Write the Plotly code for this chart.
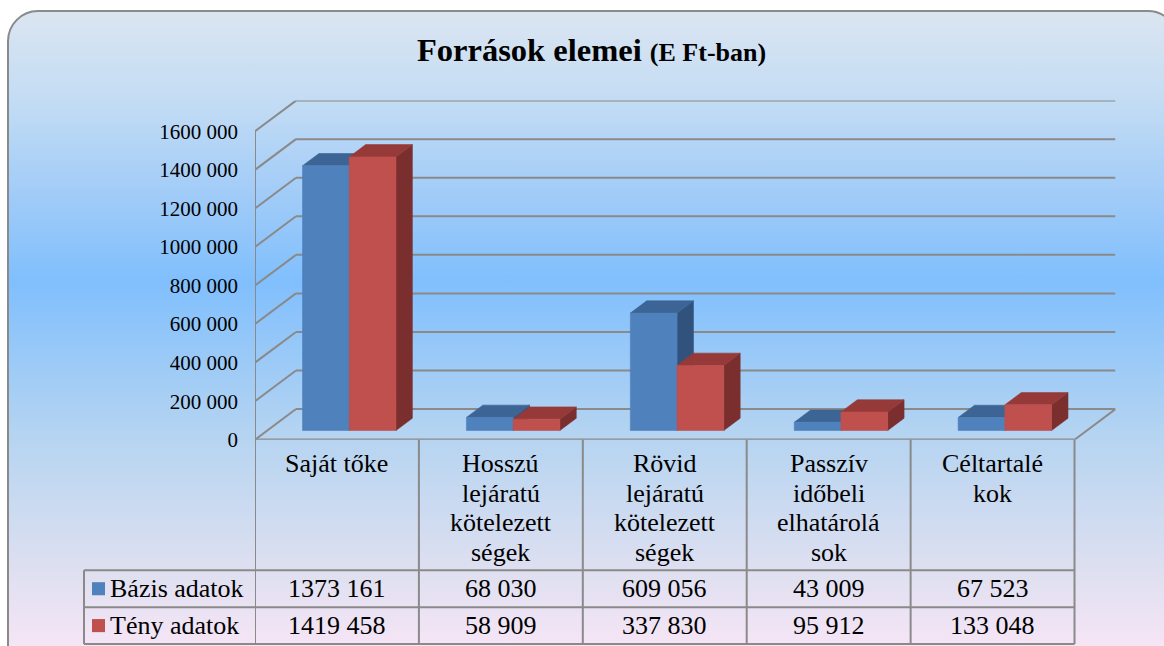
import base64
import plotly.graph_objects as go

# ---------------- data ----------------
categories = [
    ["Saját tőke"],
    ["Hosszú", "lejáratú", "kötelezett", "ségek"],
    ["Rövid", "lejáratú", "kötelezett", "ségek"],
    ["Passzív", "időbeli", "elhatárolá", "sok"],
    ["Céltartalé", "kok"],
]
series_names = ["Bázis adatok", "Tény adatok"]
bazis_values = [1373161, 68030, 609056, 43009, 67523]
teny_values = [1419458, 58909, 337830, 95912, 133048]
y_ticks = [0, 200000, 400000, 600000, 800000, 1000000, 1200000, 1400000, 1600000]
y_tick_labels = ["0", "200 000", "400 000", "600 000", "800 000",
                 "1000 000", "1200 000", "1400 000", "1600 000"]
title_main = "Források elemei"
title_sub = "(E Ft-ban)"

# ---------------- styling / layout ----------------
W, H = 1164, 646          # reference picture size (layout positions use it)
FIG_H = 662               # figure height
X0_PX, X1_PX = 255.0, 1115.5
Y0_PX, Y1_PX = 437.0, 100.0
N = len(categories)
DEPTH_X = 0.25
DEPTH_Y = 159000
Y_TOP = y_ticks[-1]
BAR_W = 0.285
GAP = (1 - 2 * BAR_W) / 2
F0, F1 = 0.3, 0.7

FONT = "Liberation Serif"
TABLE_FS = 26
GRID = "#8a8a8a"
FRONT = ["#4f81bd", "#c0504d"]
TOP = ["#3c6494", "#953a38"]
SIDE = ["#32527e", "#7a2f2e"]

def px_x(xpx):
    return xpx / W

def px_y(ypx):
    return (H - ypx) / H

def data_x_px(x):
    return X0_PX + x * (X1_PX - X0_PX) / (N + DEPTH_X)

def fmt(v):
    s = str(v)
    return s if len(s) <= 3 else s[:-3] + " " + s[-3:]

svg = f'''<svg xmlns="http://www.w3.org/2000/svg" width="{W}" height="{H}" viewBox="0 0 {W} {H}" preserveAspectRatio="none">
<defs><linearGradient id="g" x1="0" y1="11" x2="0" y2="650" gradientUnits="userSpaceOnUse">
<stop offset="0" stop-color="#dbe5f1"/>
<stop offset="0.14" stop-color="#c3dcf4"/>
<stop offset="0.29" stop-color="#a0cbf8"/>
<stop offset="0.42" stop-color="#80bffd"/>
<stop offset="0.66" stop-color="#b5d4f1"/>
<stop offset="0.86" stop-color="#dcdff0"/>
<stop offset="1" stop-color="#f8e6f6"/>
</linearGradient></defs>
<rect x="8" y="11" width="1170" height="660" rx="30" ry="30" fill="url(#g)" stroke="#8a8a8a" stroke-width="2"/>
</svg>'''
bg_src = "data:image/svg+xml;base64," + base64.b64encode(svg.encode("utf-8")).decode("ascii")

fig = go.Figure()

# ---------------- 3D bars (oblique projection through data axes) ----------------
values = [bazis_values, teny_values]
dx_bar = (F1 - F0) * DEPTH_X
dy_bar = (F1 - F0) * DEPTH_Y
for i in range(N):
    for s in range(2):
        v = values[s][i]
        x0 = i + GAP + s * BAR_W + F0 * DEPTH_X
        x1 = x0 + BAR_W
        y0 = F0 * DEPTH_Y
        y1 = y0 + v
        faces = [
            ([x1, x1 + dx_bar, x1 + dx_bar, x1, x1],
             [y0, y0 + dy_bar, y1 + dy_bar, y1, y0], SIDE[s]),
            ([x0, x1, x1 + dx_bar, x0 + dx_bar, x0],
             [y1, y1, y1 + dy_bar, y1 + dy_bar, y1], TOP[s]),
            ([x0, x1, x1, x0, x0],
             [y0, y0, y1, y1, y0], FRONT[s]),
        ]
        for fx, fy, col in faces:
            fig.add_trace(go.Scatter(
                x=fx, y=fy, mode="lines", fill="toself", fillcolor=col,
                line=dict(color=col, width=0.6), hoverinfo="skip",
                showlegend=False))

shapes = []
for v in y_ticks:
    shapes.append(dict(type="line", xref="x", yref="y", x0=0, y0=v,
                       x1=DEPTH_X, y1=v + DEPTH_Y, line=dict(color=GRID, width=2),
                       layer="below"))
    shapes.append(dict(type="line", xref="x", yref="y", x0=DEPTH_X, y0=v + DEPTH_Y,
                       x1=N + DEPTH_X, y1=v + DEPTH_Y, line=dict(color=GRID, width=2),
                       layer="below"))
shapes.append(dict(type="line", xref="x", yref="y", x0=N, y0=0, x1=N + DEPTH_X,
                   y1=DEPTH_Y, line=dict(color=GRID, width=2), layer="below"))
shapes.append(dict(type="line", xref="x", yref="y", x0=0, y0=0, x1=N, y1=0,
                   line=dict(color=GRID, width=2.5), layer="below"))
shapes.append(dict(type="line", xref="x", yref="y", x0=0, y0=0, x1=0, y1=Y_TOP,
                   line=dict(color=GRID, width=2), layer="below"))

# ---------------- data table ----------------
ROW_TOP = 566.7
ROW_MID = 603.5
ROW_BOT = 640.0
LEFT_PX = 84
for k in range(N + 1):
    shapes.append(dict(type="line", xref="x", yref="paper", x0=k, x1=k,
                       y0=px_y(Y0_PX), y1=px_y(ROW_BOT),
                       line=dict(color=GRID, width=2)))
for ypx in (ROW_TOP, ROW_MID, ROW_BOT):
    shapes.append(dict(type="line", xref="paper", yref="paper",
                       x0=px_x(LEFT_PX), x1=px_x(data_x_px(N)),
                       y0=px_y(ypx), y1=px_y(ypx),
                       line=dict(color=GRID, width=2)))
shapes.append(dict(type="line", xref="paper", yref="paper",
                   x0=px_x(LEFT_PX), x1=px_x(LEFT_PX),
                   y0=px_y(ROW_TOP), y1=px_y(ROW_BOT),
                   line=dict(color=GRID, width=2)))

annotations = []
LINE0 = 461.0
LINE_STEP = 29.3
for i, lines in enumerate(categories):
    for j, t in enumerate(lines):
        annotations.append(dict(
            x=i + 0.5, y=px_y(LINE0 + j * LINE_STEP), xref="x", yref="paper",
            text=t, showarrow=False, xanchor="center", yanchor="middle",
            font=dict(family=FONT, size=TABLE_FS, color="black")))

row_centers = [(ROW_TOP + ROW_MID) / 2, (ROW_MID + ROW_BOT) / 2]
for s in range(2):
    yc = row_centers[s]
    for i in range(N):
        annotations.append(dict(
            x=i + 0.5, y=px_y(yc), xref="x", yref="paper",
            text=fmt(values[s][i]), showarrow=False, xanchor="center",
            yanchor="middle", font=dict(family=FONT, size=TABLE_FS, color="black")))
    shapes.append(dict(type="rect", xref="paper", yref="paper",
                       x0=px_x(92), x1=px_x(105),
                       y0=px_y(yc - 6.5), y1=px_y(yc + 6.5),
                       fillcolor=FRONT[s], line=dict(width=0)))
    annotations.append(dict(
        x=px_x(108), y=px_y(yc), xref="paper", yref="paper",
        text=series_names[s], showarrow=False, xanchor="left", yanchor="middle",
        font=dict(family=FONT, size=TABLE_FS, color="black")))

annotations.append(dict(
    x=px_x(591), y=px_y(50), xref="paper", yref="paper", showarrow=False,
    xanchor="center", yanchor="middle",
    text=f"<b>{title_main} </b><b><span style='font-size:26px'>{title_sub}</span></b>",
    font=dict(family=FONT, size=32.5, color="black")))

fig.update_layout(
    width=W, height=FIG_H, autosize=False,
    margin=dict(l=0, r=0, t=0, b=0),
    paper_bgcolor="white", plot_bgcolor="rgba(0,0,0,0)",
    showlegend=False,
    xaxis=dict(domain=[px_x(X0_PX), px_x(X1_PX)], range=[0, N + DEPTH_X],
               visible=False, fixedrange=True),
    yaxis=dict(domain=[px_y(Y0_PX), px_y(Y1_PX)], range=[0, Y_TOP + DEPTH_Y],
               tickmode="array", tickvals=y_ticks, ticktext=y_tick_labels,
               showgrid=False, zeroline=False, showline=False, ticks="",
               ticklabelstandoff=16,
               tickfont=dict(family=FONT, size=21, color="black"),
               fixedrange=True),
    shapes=shapes,
    annotations=annotations,
    images=[dict(source=bg_src, xref="paper", yref="paper", x=0, y=1,
                 sizex=1, sizey=1, sizing="stretch", xanchor="left",
                 yanchor="top", layer="below")],
)

# pin the figure to the window's top-left corner (no page margin / scrolling)
post = (
    "document.documentElement.style.overflow='hidden';"
    "document.documentElement.style.background='#f5e5f5';"
    "document.body.style.margin='0';"
    "document.body.style.overflow='hidden';"
    "var gd=document.getElementById('{plot_id}');"
    "gd.style.position='fixed';gd.style.left='0px';gd.style.top='0px';"
)

fig.write_html("out.html", config={"displayModeBar": False}, post_script=post)
